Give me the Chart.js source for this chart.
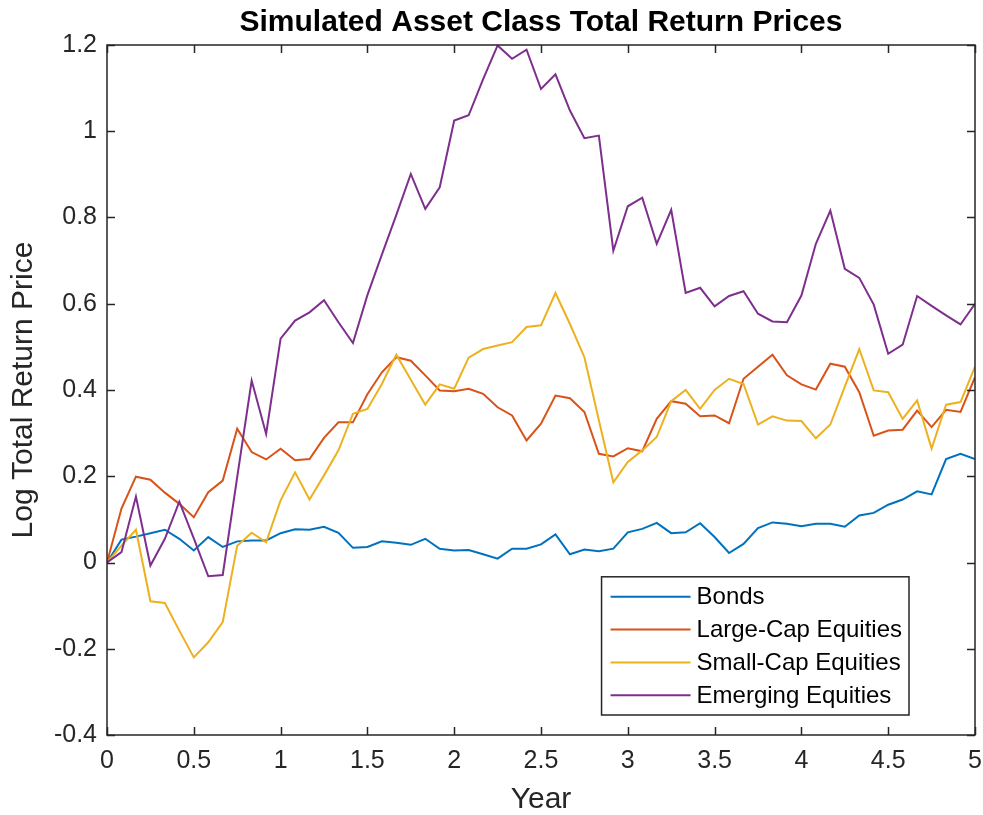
<!DOCTYPE html>
<html>
<head>
<meta charset="utf-8">
<title>Simulated Asset Class Total Return Prices</title>
<script src="https://cdn.jsdelivr.net/npm/chart.js@4.4.1/dist/chart.umd.min.js"></script>
<style>
  html, body { margin: 0; padding: 0; background: #fff; }
  #wrap { width: 983px; height: 815px; }
</style>
</head>
<body>
<div id="wrap"><canvas id="chart"></canvas></div>
<script>
// Monthly log total return prices over 5 years (61 points)
const stepsPerYear = 12;
const chartTitle = 'Simulated Asset Class Total Return Prices';
const seriesNames = ['Bonds', 'Large-Cap Equities', 'Small-Cap Equities', 'Emerging Equities'];
const seriesColors = ['#0072BD', '#D95319', '#EDB120', '#7E2F8E'];

const bonds = [0, 0.053, 0.060, 0.068, 0.076, 0.055, 0.028, 0.059, 0.036, 0.049,
  0.051, 0.051, 0.068, 0.077, 0.076, 0.083, 0.069, 0.034, 0.036, 0.049,
  0.046, 0.041, 0.055, 0.032, 0.028, 0.029, 0.019, 0.009, 0.032, 0.032,
  0.042, 0.065, 0.019, 0.030, 0.026, 0.032, 0.070, 0.078, 0.092, 0.068,
  0.070, 0.091, 0.059, 0.022, 0.043, 0.080, 0.093, 0.090, 0.084, 0.090,
  0.090, 0.083, 0.109, 0.115, 0.134, 0.146, 0.165, 0.158, 0.240, 0.252, 0.240];

const largeCap = [0, 0.125, 0.199, 0.192, 0.162, 0.136, 0.105, 0.163, 0.190, 0.310,
  0.256, 0.239, 0.264, 0.237, 0.240, 0.289, 0.325, 0.325, 0.390, 0.441,
  0.476, 0.468, 0.434, 0.399, 0.397, 0.403, 0.391, 0.360, 0.341, 0.283,
  0.322, 0.387, 0.381, 0.349, 0.252, 0.246, 0.265, 0.258, 0.333, 0.374,
  0.368, 0.339, 0.341, 0.323, 0.426, 0.454, 0.482, 0.434, 0.413, 0.401,
  0.461, 0.454, 0.395, 0.294, 0.306, 0.308, 0.352, 0.314, 0.354, 0.349, 0.430];

const smallCap = [0, 0.039, 0.076, -0.090, -0.094, -0.158, -0.220, -0.185, -0.138, 0.039,
  0.069, 0.047, 0.144, 0.209, 0.146, 0.202, 0.260, 0.345, 0.356, 0.414,
  0.482, 0.424, 0.366, 0.413, 0.403, 0.475, 0.495, 0.503, 0.511, 0.546,
  0.550, 0.625, 0.553, 0.476, 0.330, 0.186, 0.233, 0.260, 0.291, 0.374,
  0.400, 0.356, 0.400, 0.426, 0.414, 0.320, 0.339, 0.329, 0.328, 0.288,
  0.320, 0.408, 0.495, 0.399, 0.395, 0.333, 0.376, 0.264, 0.366, 0.372, 0.454];

const emerging = [0, 0.024, 0.153, -0.007, 0.055, 0.141, 0.056, -0.032, -0.029, 0.198,
  0.422, 0.298, 0.519, 0.561, 0.580, 0.608, 0.557, 0.509, 0.620, 0.714,
  0.806, 0.901, 0.820, 0.870, 1.025, 1.037, 1.121, 1.199, 1.168, 1.189,
  1.098, 1.132, 1.048, 0.984, 0.990, 0.723, 0.826, 0.846, 0.739, 0.818,
  0.625, 0.637, 0.594, 0.618, 0.629, 0.577, 0.559, 0.557, 0.619, 0.739,
  0.816, 0.681, 0.660, 0.598, 0.484, 0.505, 0.618, 0.595, 0.573, 0.552, 0.600];

const allSeries = [bonds, largeCap, smallCap, emerging];

const axisColor = '#262626';
const fontFamily = "'Liberation Sans', Arial, Helvetica, sans-serif";
Chart.defaults.font.family = fontFamily;

// MATLAB style: tick labels without trailing zeros (1 instead of 1.0)
const plainTick = v => String(Number(v.toFixed(1)));

// title centred over the plot area rather than the whole canvas
const plotTitle = {
  id: 'plotTitle',
  afterDraw(chart) {
    const { ctx, chartArea: a } = chart;
    ctx.save();
    ctx.font = 'bold 30px ' + fontFamily;
    ctx.fillStyle = '#000';
    ctx.textAlign = 'center';
    ctx.textBaseline = 'alphabetic';
    ctx.fillText(chartTitle, (a.left + a.right) / 2, 31);
    ctx.restore();
  }
};

// box with inward ticks on all four sides
const axesFrame = {
  id: 'axesFrame',
  afterDatasetsDraw(chart) {
    const { ctx, chartArea: a, scales: { x, y } } = chart;
    const len = 8;
    ctx.save();
    ctx.strokeStyle = axisColor;
    ctx.lineWidth = 1.5;
    ctx.strokeRect(a.left, a.top, a.right - a.left, a.bottom - a.top);
    ctx.beginPath();
    x.ticks.forEach(t => {
      const px = Math.round(x.getPixelForValue(t.value)) + 0.5;
      ctx.moveTo(px, a.bottom); ctx.lineTo(px, a.bottom - len);
      ctx.moveTo(px, a.top); ctx.lineTo(px, a.top + len);
    });
    y.ticks.forEach(t => {
      const py = Math.round(y.getPixelForValue(t.value)) + 0.5;
      ctx.moveTo(a.left, py); ctx.lineTo(a.left + len, py);
      ctx.moveTo(a.right, py); ctx.lineTo(a.right - len, py);
    });
    ctx.stroke();
    ctx.restore();
  }
};

// legend box in the lower right corner of the plot
const boxLegend = {
  id: 'boxLegend',
  afterDraw(chart) {
    const { ctx, chartArea: a } = chart;
    const sets = chart.data.datasets;
    const rowH = 32.8, padX = 9, sampleW = 80, gap = 6;
    ctx.save();
    ctx.font = '24px ' + fontFamily;
    const textW = Math.max(...sets.map(d => ctx.measureText(d.label).width));
    const w = padX + sampleW + gap + textW + 7;
    const h = rowH * sets.length + 7;
    const right = a.right - 66, bottom = a.bottom - 20;
    const left = right - w, top = bottom - h;
    ctx.fillStyle = '#fff';
    ctx.fillRect(left, top, w, h);
    ctx.strokeStyle = axisColor;
    ctx.lineWidth = 1.5;
    ctx.strokeRect(left, top, w, h);
    ctx.textBaseline = 'middle';
    sets.forEach((d, i) => {
      const cy = top + 20 + i * rowH;
      ctx.strokeStyle = d.borderColor;
      ctx.lineWidth = 2;
      ctx.beginPath();
      ctx.moveTo(left + padX, cy);
      ctx.lineTo(left + padX + sampleW, cy);
      ctx.stroke();
      ctx.fillStyle = '#000';
      ctx.fillText(d.label, left + padX + sampleW + gap, cy + 1);
    });
    ctx.restore();
  }
};

new Chart(document.getElementById('chart'), {
  type: 'line',
  data: {
    datasets: allSeries.map((vals, i) => ({
      label: seriesNames[i],
      data: vals.map((v, k) => ({ x: k / stepsPerYear, y: v })),
      borderColor: seriesColors[i],
      backgroundColor: seriesColors[i],
      borderWidth: 2,
      pointRadius: 0,
      tension: 0,
      order: allSeries.length - i
    }))
  },
  options: {
    responsive: true,
    maintainAspectRatio: false,
    animation: false,
    devicePixelRatio: 1,
    layout: { padding: { left: 0, right: 8, top: 45, bottom: 0 } },
    plugins: {
      legend: { display: false },
      tooltip: { enabled: false },
      title: { display: false }
    },
    scales: {
      x: {
        type: 'linear',
        min: 0,
        max: 5,
        ticks: { stepSize: 0.5, color: axisColor, font: { size: 25 }, padding: 11, maxRotation: 0, callback: plainTick },
        grid: { display: false, drawTicks: false },
        border: { display: false },
        title: { display: true, text: 'Year', color: axisColor, font: { size: 30, lineHeight: 1 }, padding: { top: 0, bottom: 0 } },
        afterFit: s => { s.height = 80; s.paddingLeft = 0; s.paddingRight = 0; }
      },
      y: {
        min: -0.4,
        max: 1.2,
        ticks: { stepSize: 0.2, color: axisColor, font: { size: 25 }, padding: 10, callback: plainTick },
        grid: { display: false, drawTicks: false },
        border: { display: false },
        title: { display: true, text: 'Log Total Return Price', color: axisColor, font: { size: 30 }, padding: { top: 6, bottom: 0 } },
        afterFit: s => { s.width = 107; }
      }
    }
  },
  plugins: [axesFrame, boxLegend, plotTitle]
});
</script>
</body>
</html>
